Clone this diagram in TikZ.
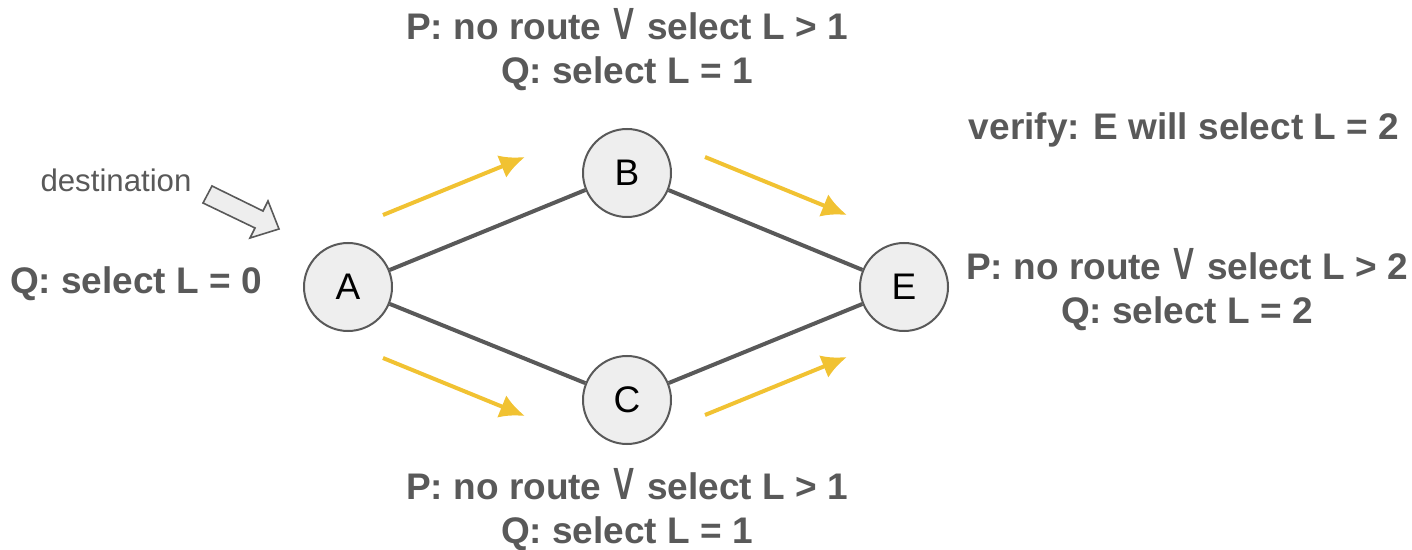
\documentclass[tikz,border=0pt]{standalone}
\usepackage{fontspec}
\usepackage{graphicx}
\setmainfont{Liberation Sans}
\newfontfamily\symfont{DejaVu Sans}
\usetikzlibrary{arrows.meta,positioning}
\definecolor{darkgray}{HTML}{595959}
\definecolor{lightfill}{HTML}{EEEEEE}
\definecolor{flowyellow}{HTML}{F1C232}
\newcommand{\orsym}{\kern-1.5pt\scalebox{1.15}[1.45]{\mdseries\symfont\char"2228}\kern-1.5pt}
\tikzset{
    nodesty/.style={circle,draw=darkgray,line width=1pt,fill=lightfill,minimum size=44pt,inner sep=0pt,font=\fontsize{18.5}{20}\selectfont},
    edgesty/.style={draw=darkgray,line width=2pt},
    flowsty/.style={draw=flowyellow,line width=2pt,-{Latex[length=12.5pt,width=12pt]}},
    labelsty/.style={text=darkgray,align=center,inner sep=0pt,font=\bfseries\fontsize{18.5}{22}\selectfont},
    deststy/.style={draw=darkgray,line width=0.8pt,fill=lightfill,line join=miter},
}

\begin{document}
\begin{tikzpicture}[x=0.5pt,y=-0.5pt]
\useasboundingbox (0,0) rectangle (1412,550);

% routers
\node[nodesty] (A) at (348,287) {A};
\node[nodesty] (B) at (627,173) {B};
\node[nodesty] (C) at (627,400) {C};
\node[nodesty] (E) at (904,287) {E};

% links
\draw[edgesty] (A) -- (B);
\draw[edgesty] (A) -- (C);
\draw[edgesty] (B) -- (E);
\draw[edgesty] (C) -- (E);

% propagation
\coordinate (ab1) at (383,215);
\coordinate (ab2) at (525,157);
\coordinate (be1) at (705,157);
\coordinate (be2) at (847,215);
\coordinate (ac1) at (383,358);
\coordinate (ac2) at (525,416);
\coordinate (ce1) at (705,415);
\coordinate (ce2) at (847,357);
\draw[flowsty] (ab1) -- (ab2);
\draw[flowsty] (be1) -- (be2);
\draw[flowsty] (ac1) -- (ac2);
\draw[flowsty] (ce1) -- (ce2);

% destination marker
\node[text=darkgray,font=\fontsize{15.6}{18}\selectfont] (dest) at (116,180) {destination};
\draw[deststy] (212,186) -- (263,211) -- (268,201) -- (279,229) -- (250,238) -- (255,228) -- (203,203) -- cycle;

% conditions
\node[labelsty] (lblA) at (136,284) {Q: select L = 0};
\node[labelsty] (lblB) at (627,50) {P: no route \orsym{} select L > 1\\Q: select L = 1};
\node[labelsty] (lblC) at (627,510) {P: no route \orsym{} select L > 1\\Q: select L = 1};
\node[labelsty] (lblE) at (1187,290) {P: no route \orsym{} select L > 2\\Q: select L = 2};
\node[labelsty] (verify) at (1184,130) {verify: E will select L = 2};
\end{tikzpicture}
\end{document}
